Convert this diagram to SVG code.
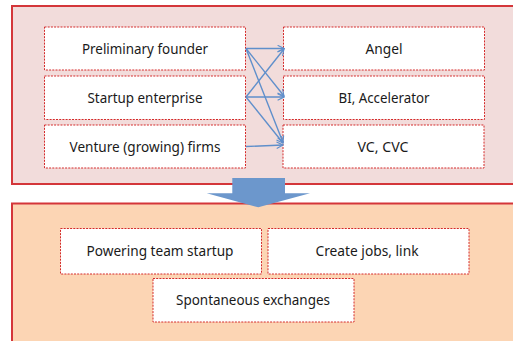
<svg xmlns="http://www.w3.org/2000/svg" width="513" height="341" viewBox="0 0 513 341">
  <style>
    .panel { stroke: #d4363a; stroke-width: 2; }
    .box { fill: #ffffff; stroke: #d42a2a; stroke-width: 1; stroke-dasharray: 2 1.2; }
    .label { font-family: "Noto Sans", "Open Sans", sans-serif; font-size: 15px; fill: #1a1a1a; text-anchor: middle; }
    .link { stroke: #5f8fcb; stroke-width: 1.4; fill: none; marker-end: url(#open-arrow); }
  </style>
  <defs>
    <marker id="open-arrow" viewBox="0 0 10 10" refX="9" refY="5" markerWidth="8" markerHeight="8" markerUnits="userSpaceOnUse" orient="auto">
      <path d="M1,1 L9,5 L1,9" fill="none" stroke="#5f8fcb" stroke-width="1.4"/>
    </marker>
  </defs>
  <rect width="513" height="341" fill="#ffffff"/>

  <!-- upper panel: actors -->
  <rect class="panel" x="12" y="6" width="510" height="178" fill="#f2dcdb"/>
  <!-- lower panel: outcomes -->
  <rect class="panel" x="12" y="203.5" width="510" height="150" fill="#fcd5b4"/>

  <!-- transition arrow between panels -->
  <g id="flow-arrow">
    <path d="M232.3,178 L285,178 L285,193.3 L310,193.3 L258.3,207.3 L206.7,193.3 L232.3,193.3 Z" fill="#6c97cc"/>
  </g>

  <g id="preliminary-founder">
    <rect class="box" x="44.5" y="27" width="201" height="43"/>
    <text class="label" x="145" y="54" textLength="126" lengthAdjust="spacingAndGlyphs">Preliminary founder</text>
  </g>
  <g id="startup-enterprise">
    <rect class="box" x="44.5" y="76" width="201" height="43.5"/>
    <text class="label" x="145" y="103" textLength="115" lengthAdjust="spacingAndGlyphs">Startup enterprise</text>
  </g>
  <g id="venture-firms">
    <rect class="box" x="44.5" y="125" width="201" height="43"/>
    <text class="label" x="145" y="152" textLength="151" lengthAdjust="spacingAndGlyphs">Venture (growing) firms</text>
  </g>

  <g id="angel">
    <rect class="box" x="283.5" y="27" width="201" height="43"/>
    <text class="label" x="384" y="54" textLength="37" lengthAdjust="spacingAndGlyphs">Angel</text>
  </g>
  <g id="bi-accelerator">
    <rect class="box" x="283.5" y="76" width="201" height="43.5"/>
    <text class="label" x="384" y="103" textLength="91" lengthAdjust="spacingAndGlyphs">BI, Accelerator</text>
  </g>
  <g id="vc-cvc">
    <rect class="box" x="283" y="125" width="201" height="43"/>
    <text class="label" x="383" y="152" textLength="51" lengthAdjust="spacingAndGlyphs">VC, CVC</text>
  </g>

  <g id="connectors">
    <line class="link" x1="246" y1="48.5" x2="284" y2="48.5"/>
    <line class="link" x1="246" y1="48.5" x2="284" y2="96"/>
    <line class="link" x1="246" y1="48.5" x2="283" y2="142.5"/>
    <line class="link" x1="246" y1="97" x2="284" y2="49"/>
    <line class="link" x1="246" y1="97" x2="284" y2="97"/>
    <line class="link" x1="246" y1="97" x2="283" y2="143"/>
    <line class="link" x1="246" y1="146.5" x2="283" y2="145"/>
  </g>

  <g id="powering-team-startup">
    <rect class="box" x="60.5" y="228.5" width="201" height="45.5"/>
    <text class="label" x="160" y="256" textLength="147" lengthAdjust="spacingAndGlyphs">Powering team startup</text>
  </g>
  <g id="create-jobs-link">
    <rect class="box" x="268" y="228.5" width="201" height="45.5"/>
    <text class="label" x="367" y="256" textLength="103" lengthAdjust="spacingAndGlyphs">Create jobs, link</text>
  </g>
  <g id="spontaneous-exchanges">
    <rect class="box" x="153" y="278.5" width="201" height="43.5"/>
    <text class="label" x="253" y="305" textLength="154" lengthAdjust="spacingAndGlyphs">Spontaneous exchanges</text>
  </g>
</svg>
